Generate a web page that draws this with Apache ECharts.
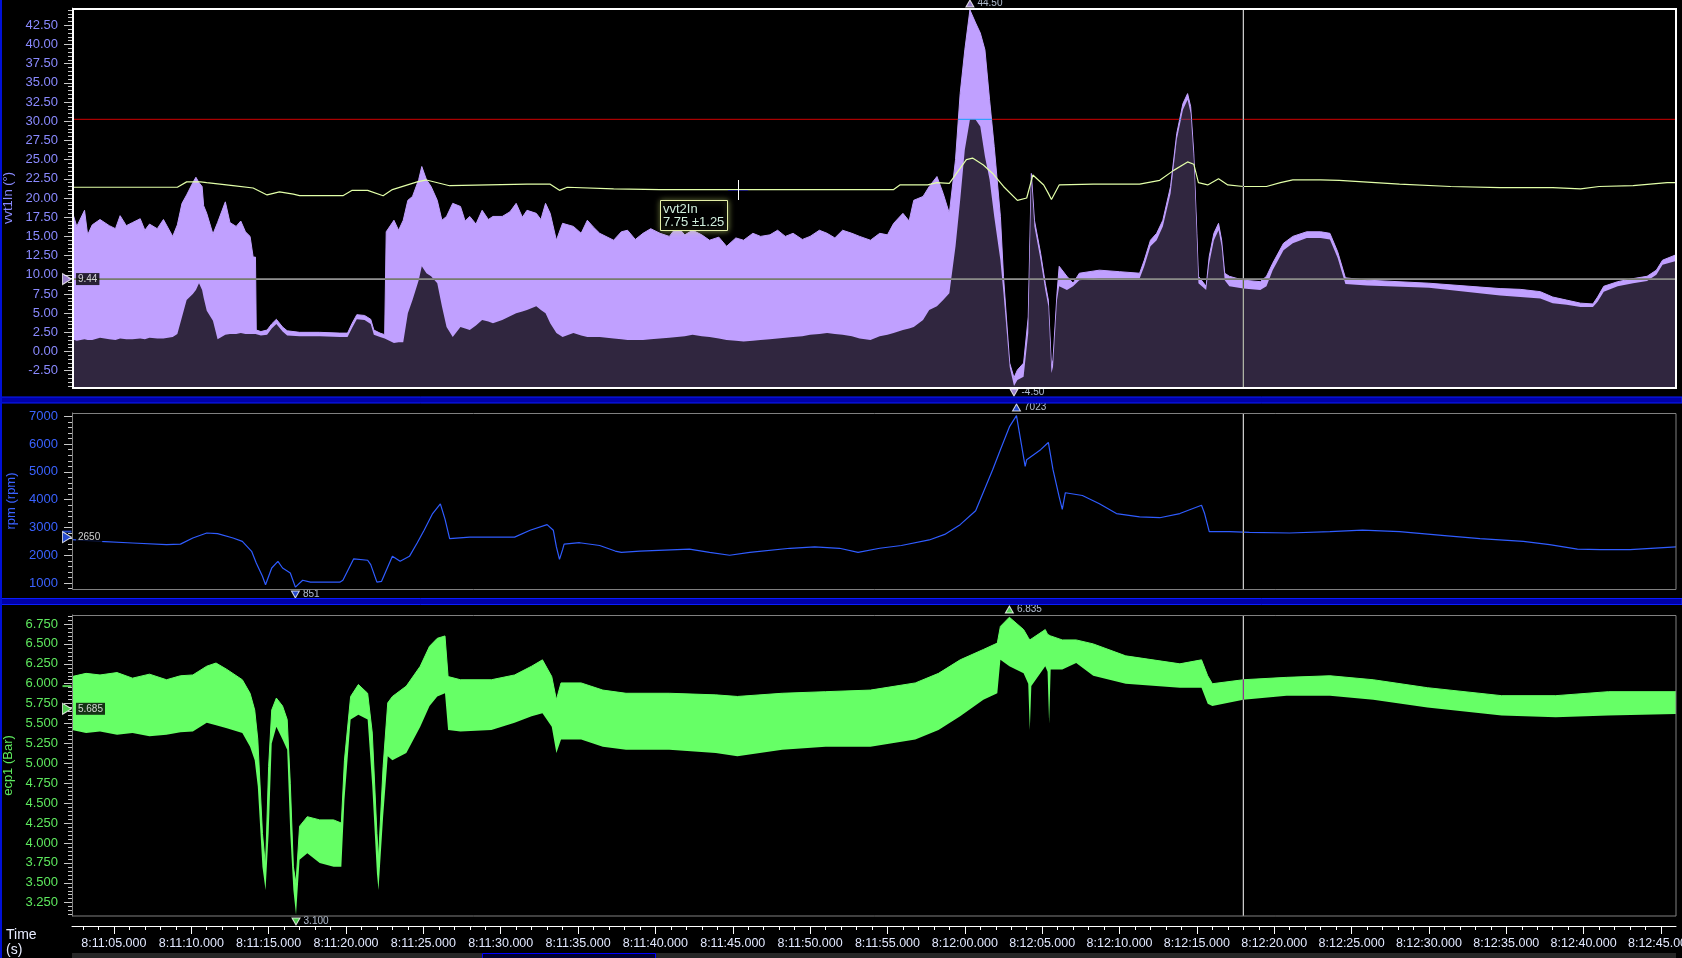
<!DOCTYPE html>
<html><head><meta charset="utf-8">
<script src="https://cdn.jsdelivr.net/npm/echarts@6/dist/echarts.min.js"></script>
<style>html,body{margin:0;padding:0;background:#000;overflow:hidden}#c{width:1682px;height:958px}</style>
</head><body><div id="c"></div>
<script>
// ---------- data (time = seconds after 8:11:00) ----------
// vvt1In: [time, upper envelope, lower envelope] of the fast-oscillating trace
const vvt1In = [
[2.29,18.3,1.6],[2.6,16.3,1.4],[3.1,18.4,1.6],[3.3,15.2,1.5],[3.6,16.5,1.5],[4.1,17.2,1.8],[4.7,16.4,1.6],[5.1,16.0,1.5],[5.4,17.7,1.7],[5.8,16.4,1.6],[6.2,16.8,1.6],[6.7,17.3,1.7],[7.0,15.8,1.6],[7.3,16.6,1.8],[7.8,16.0,1.7],[8.2,17.2,1.7],[8.8,15.0,1.9],[9.1,16.5,2.3],[9.4,19.3,4.5],[9.7,20.4,6.7],[10.1,22.0,7.5],[10.3,22.7,8.0],[10.5,22.0,8.9],[10.7,21.5,8.0],[10.8,19.0,7.0],[11.0,18.0,5.3],[11.4,15.3,4.0],[11.7,16.8,1.6],[12.2,19.5,2.2],[12.5,16.8,2.3],[12.9,16.3,2.3],[13.2,17.0,2.4],[13.5,15.6,2.3],[13.8,15.0,2.3],[14.0,12.3,2.3],[14.15,12.3,2.3],
[14.2,2.8,2.2],[14.5,2.6,2.1],[14.9,2.8,2.2],[15.2,3.6,3.0],[15.5,4.2,3.6],[15.9,3.2,2.6],[16.2,2.7,2.1],[17.0,2.5,2.0],[18.3,2.5,2.0],[19.6,2.4,1.9],[20.1,2.4,1.9],[20.4,3.7,3.1],[20.7,4.8,4.2],[21.2,4.7,4.1],[21.6,4.2,3.6],[21.8,2.8,2.2],[22.2,2.4,1.9],[22.5,2.2,1.7],
[22.6,15.6,1.5],[23.1,17.1,1.1],[23.4,15.8,1.2],[23.7,17.1,1.2],[24.0,19.7,5.0],[24.3,20.2,6.7],[24.7,22.4,9.3],[24.9,24.1,11.1],[25.2,22.4,10.2],[25.5,21.5,9.8],[25.9,19.7,8.9],[26.2,17.1,5.9],[26.5,17.6,3.2],[26.9,19.3,1.9],[27.4,18.9,3.2],[27.7,17.0,3.0],[28.0,17.6,2.8],[28.4,16.6,3.4],[28.8,18.4,4.1],[29.2,17.2,3.9],[29.5,17.6,3.7],[30.1,17.6,4.1],[30.6,18.2,4.6],[31.0,19.3,5.0],[31.4,17.5,5.2],[31.7,18.4,5.4],[32.3,18.0,5.9],[32.6,17.2,5.4],[32.9,19.3,5.0],[33.2,18.0,3.7],[33.6,14.5,2.4],[34.0,16.7,1.9],[34.7,16.3,2.4],[35.2,15.4,2.1],[35.6,17.1,1.9],[36.0,16.2,1.9],[36.4,15.4,1.9],[37.3,14.5,1.7],[37.8,15.6,1.6],[38.2,15.8,1.5],[38.7,14.6,1.5],[39.2,15.4,1.5],[39.7,16.0,1.6],[40.3,15.4,1.7],[40.9,15.0,1.8],[41.4,16.3,1.9],[41.9,15.2,2.0],[42.4,15.8,2.2],[43.0,15.2,2.0],[43.5,14.5,1.9],[44.1,14.9,1.7],[44.6,13.7,1.5],[45.2,14.8,1.4],[45.7,14.5,1.3],[46.3,15.4,1.4],[46.8,15.0,1.5],[47.4,15.2,1.6],[47.9,15.8,1.7],[48.4,15.0,1.8],[48.9,15.4,1.9],[49.5,14.6,2.0],[50.0,15.0,2.2],[50.6,15.8,2.3],[51.1,15.4,2.4],[51.6,14.8,2.3],[52.1,15.8,2.2],[52.7,15.4,2.0],[53.2,15.0,1.7],[53.9,14.5,1.5],[54.5,15.4,2.0],[55.0,15.2,2.2],[55.4,16.7,2.4],[56.0,18.0,2.8],[56.4,17.0,3.0],[56.7,19.7,3.2],[57.3,20.2,4.1],[57.7,21.5,5.4],[58.2,22.8,5.9],[58.6,20.6,6.7],[59.0,18.0,7.6],[59.4,25.0,13.7],[59.7,33.6,19.7],[60.0,39.3,26.3],[60.33,44.5,30.2],[60.7,42.8,30.2],[61.0,41.5,29.3],[61.3,39.3,25.4],[61.6,32.8,22.4],[61.9,26.7,17.6],[62.3,17.6,11.9],[62.5,9.8,7.6],[62.7,4.1,2.8],[62.9,-1.5,-2.0],[63.18,-3.4,-4.5],[63.4,-2.4,-3.7],[63.8,-1.5,-3.3],[64.1,4.5,2.4],[64.3,23.2,22.4],[64.5,17.1,16.3],[64.9,12.8,11.9],[65.2,8.9,8.0],[65.4,6.7,5.9],[65.6,-2.0,-2.8],[65.7,-1.1,-2.0],[65.96,7.6,6.7],[66.1,11.1,8.5],[66.6,9.8,8.0],[67.0,8.9,8.5],[67.4,10.2,9.3],[68.7,10.6,9.5],[70.0,10.4,9.5],[71.3,10.2,9.5],[71.6,11.9,11.1],[72.0,14.5,13.7],[72.4,15.4,14.5],[72.8,17.1,16.3],[73.3,21.5,20.6],[73.7,28.4,27.6],[74.1,32.3,31.5],[74.4,33.6,32.8],[74.6,31.9,31.0],[74.8,25.8,25.0],[75.0,15.4,14.5],[75.1,9.8,8.9],[75.6,8.5,8.0],[75.8,12.4,11.5],[76.1,15.4,14.5],[76.4,16.7,15.8],[76.6,14.5,13.7],[76.8,10.2,9.3],[77.1,9.8,8.5],[78.0,9.3,8.2],[79.1,9.1,8.0],[79.5,9.8,8.5],[79.9,11.5,10.6],[80.6,14.1,13.2],[81.2,15.0,14.1],[82.1,15.6,14.8],[83.0,15.6,14.8],[83.6,15.4,14.6],[84.1,13.0,12.2],[84.6,9.6,8.8],[86.0,9.3,8.6],[90.0,8.9,8.3],[94.6,8.2,7.3],[95.9,8.1,7.1],[97.2,7.8,6.9],[98.0,7.1,6.3],[98.9,6.7,6.1],[99.8,6.3,5.8],[100.6,6.2,5.8],[100.9,7.1,6.5],[101.3,8.5,7.8],[102.2,9.1,8.5],[103.2,9.5,8.9],[104.1,9.8,9.2],[104.7,10.6,10.0],[105.1,11.9,11.3],[105.97,12.6,11.8]
];
// vvt2In (yellow trace): [time, value]
const vvt2In = [
[2.29,21.4],[9.1,21.4],[9.7,22.1],[10.6,22.1],[11.0,22.0],[12.7,21.6],[14.0,21.3],[14.9,20.4],[15.7,20.8],[16.6,20.5],[17.0,20.3],[19.8,20.3],[20.4,21.0],[21.4,21.0],[22.4,20.3],[23.0,21.1],[24.6,22.1],[25.2,22.35],[26.7,21.6],[31.7,21.8],[33.2,21.8],[33.8,21.0],[34.3,21.4],[37.3,21.2],[40.3,21.1],[55.4,21.1],[55.8,21.7],[57.6,21.7],[58.2,22.0],[59.0,21.9],[60.1,25.0],[60.5,25.2],[61.2,24.3],[61.8,23.2],[62.5,21.5],[63.4,19.7],[64.0,20.0],[64.4,23.0],[65.1,21.7],[65.4,20.6],[65.6,19.8],[66.1,21.7],[68.3,21.8],[71.3,21.8],[72.6,22.3],[73.5,23.6],[74.4,24.7],[74.8,24.4],[75.1,22.0],[75.7,21.7],[76.4,22.5],[77.0,21.7],[78.0,21.5],[79.5,21.5],[80.4,22.0],[81.2,22.35],[83.0,22.35],[84.2,22.3],[88.1,21.8],[91.4,21.5],[94.6,21.35],[98.0,21.35],[99.8,21.2],[101.0,21.5],[103.2,21.6],[105.4,22.0],[105.97,22.0]
];
// rpm: [time, value]
const rpm = [
[2.29,2560],[4.1,2500],[6.2,2440],[8.4,2380],[9.3,2400],[10.1,2620],[11.0,2800],[11.7,2780],[12.7,2620],[13.3,2500],[13.9,2140],[14.2,1720],[14.6,1240],[14.8,940],[15.2,1540],[15.6,1780],[15.9,1540],[16.4,1360],[16.73,851],[17.2,1100],[17.7,1030],[19.6,1030],[19.8,1100],[20.5,1870],[21.4,1820],[21.6,1660],[22.0,1030],[22.3,1060],[23.0,1960],[23.5,1780],[24.1,1960],[24.6,2440],[25.05,2900],[25.6,3500],[26.1,3850],[26.4,3300],[26.7,2600],[28.0,2650],[30.9,2650],[31.9,2900],[33.0,3100],[33.4,2900],[33.6,2300],[33.8,1850],[34.0,2200],[34.1,2400],[35.1,2450],[36.4,2350],[37.4,2150],[37.8,2100],[39.0,2150],[42.2,2220],[43.5,2100],[44.8,2000],[46.1,2100],[48.7,2250],[50.3,2300],[51.9,2250],[53.1,2100],[54.5,2250],[55.9,2350],[57.7,2550],[58.7,2750],[59.7,3100],[60.7,3600],[61.8,5080],[62.3,5800],[62.9,6640],[63.34,7023],[63.9,5200],[64.0,5440],[64.9,5800],[65.4,6060],[65.7,5080],[66.1,4100],[66.3,3650],[66.5,4250],[67.6,4150],[68.7,3850],[69.8,3500],[71.3,3380],[72.6,3350],[73.9,3500],[75.3,3800],[75.5,3500],[75.8,2850],[77.1,2850],[78.4,2820],[81.0,2800],[83.6,2850],[85.7,2900],[88.1,2850],[91.2,2700],[93.3,2600],[96.1,2500],[97.8,2380],[99.6,2220],[101.1,2200],[103.0,2200],[105.97,2300]
];
// ecp1: [time, upper envelope, lower envelope]
const ecp1 = [
[2.29,6.09,5.42],[3.2,6.13,5.38],[4.1,6.11,5.40],[5.2,6.14,5.36],[6.2,6.07,5.38],[7.3,6.12,5.34],[8.4,6.05,5.36],[9.3,6.10,5.39],[10.1,6.11,5.40],[11.0,6.22,5.51],[11.6,6.26,5.48],[12.3,6.18,5.44],[13.3,6.05,5.38],[13.8,5.88,5.21],[14.1,5.67,5.04],[14.3,5.30,4.71],[14.6,4.12,3.70],[14.8,3.70,3.41],[15.0,4.96,4.12],[15.2,5.67,5.25],[15.5,5.82,5.46],[15.9,5.72,5.30],[16.2,5.55,5.17],[16.4,4.75,4.12],[16.6,3.70,3.41],[16.77,3.49,3.10],[17.0,4.21,3.79],[17.5,4.33,3.87],[18.3,4.29,3.75],[19.2,4.29,3.70],[19.7,4.25,3.70],[19.9,5.04,4.54],[20.3,5.84,5.55],[20.8,5.99,5.61],[21.4,5.88,5.55],[21.7,5.38,4.71],[22.0,4.12,3.62],[22.1,3.79,3.41],[22.4,4.96,4.33],[22.7,5.76,5.09],[23.0,5.84,5.04],[23.9,5.97,5.13],[24.8,6.22,5.46],[25.4,6.47,5.72],[25.9,6.57,5.84],[26.4,6.60,5.88],[26.6,6.09,5.42],[27.4,6.05,5.40],[29.4,6.05,5.42],[30.9,6.11,5.51],[32.0,6.22,5.59],[32.7,6.30,5.63],[33.3,6.09,5.46],[33.6,5.80,5.13],[33.9,6.01,5.30],[35.2,6.01,5.30],[36.6,5.92,5.21],[38.1,5.88,5.17],[40.9,5.88,5.17],[43.9,5.86,5.13],[45.3,5.84,5.09],[48.2,5.88,5.17],[51.0,5.90,5.21],[53.9,5.92,5.21],[56.8,6.01,5.30],[58.3,6.13,5.42],[59.7,6.30,5.59],[61.2,6.43,5.80],[62.1,6.51,5.88],[62.3,6.72,6.30],[62.88,6.835,6.22],[63.8,6.68,6.13],[64.1,6.58,6.00],[64.2,6.55,5.42],[64.3,6.55,5.97],[65.2,6.68,6.22],[65.35,6.62,6.15],[65.45,6.60,5.50],[65.55,6.60,6.18],[66.3,6.55,6.18],[67.2,6.55,6.26],[68.3,6.50,6.10],[70.4,6.35,6.00],[73.9,6.25,5.95],[75.3,6.30,5.95],[75.7,6.10,5.75],[76.0,6.00,5.72],[78.0,6.05,5.80],[80.8,6.08,5.85],[83.6,6.10,5.85],[86.4,6.05,5.80],[89.9,5.95,5.70],[94.7,5.85,5.60],[98.2,5.85,5.58],[101.6,5.90,5.60],[105.97,5.90,5.62]
];
// tick labels
const timeTicks = [5,10,15,20,25,30,35,40,45,50,55,60,65,70,75,80,85,90,95,100,105];
const vvtTicks = [-2.5,0,2.5,5,7.5,10,12.5,15,17.5,20,22.5,25,27.5,30,32.5,35,37.5,40,42.5];
const rpmTicks = [1000,2000,3000,4000,5000,6000,7000];
const ecpTicks = [3.25,3.5,3.75,4,4.25,4.5,4.75,5,5.25,5.5,5.75,6,6.25,6.5,6.75];
// reference values / markers
const vvtLimit = 30.25;
const vvtRef = 9.44, rpmRef = 2650, ecpRef = 5.685;
const cursorTime = 78.0, rpmAtCursor = 2850, ecpAtCursor = 5.97;
const vvtPeak = [60.33, 44.50], vvtDip = [63.18, -4.50];
const rpmPeak = [63.34, 7023], rpmDip = [16.73, 851];
const ecpPeak = [62.88, 6.835], ecpDip = [16.77, 3.100];
// axis ranges
const X0 = 2.29, X1 = 105.97;
const vvtRange = [-4.75, 44.75], rpmRange = [784, 7120], ecpRange = [3.083, 6.863];

// ---------- helpers ----------
const FONT = 'Liberation Sans';
function minors(a, b, step){ const r=[]; for(let v=a; v<=b+1e-9; v+=step) r.push(+v.toFixed(4)); return r; }
function fmtTime(t){ const m = 11 + Math.floor(t/60); const s = t - 60*Math.floor(t/60); return '8:' + m + ':' + String(s).padStart(2,'0') + '.000'; }

const GRIDS = [
  {left:72, top:8, width:1604, height:380},
  {left:72, top:413, width:1604, height:176},
  {left:72, top:615, width:1604, height:301}
];

function hiddenX(gi){ return {type:'value', gridIndex:gi, min:X0, max:X1, show:false, splitLine:{show:false}}; }

function yPair(gi, range, ticks, minorStep, color, name, fmt){
  return [
    {type:'value', gridIndex:gi, min:range[0], max:range[1], position:'left',
      name:name, nameLocation:'middle', nameGap:52, nameRotate:90,
      nameTextStyle:{color:color, fontSize:13, fontFamily:FONT},
      axisLine:{show:true, lineStyle:{color:'#9a9a9a', width:1}},
      axisTick:{show:true, length:8, customValues:ticks, lineStyle:{color:'#c8c8c8'}},
      axisLabel:{show:true, customValues:ticks, formatter:fmt, color:color, fontSize:13, fontFamily:FONT, margin:14},
      splitLine:{show:false}},
    {type:'value', gridIndex:gi, min:range[0], max:range[1], position:'left',
      axisLine:{show:false}, axisLabel:{show:false},
      axisTick:{show:true, length:4, customValues:minors(ticks[0]-minorStep*4, ticks[ticks.length-1]+minorStep*4, minorStep), lineStyle:{color:'#c8c8c8'}},
      splitLine:{show:false}}
  ];
}

function vline(xi, yi, t, range){
  return {type:'line', xAxisIndex:xi, yAxisIndex:yi, data:[[t, range[0]],[t, range[1]]], symbol:'none', silent:true,
    lineStyle:{color:'#ffffff', width:1}, blendMode:'difference', z:8};
}
function hline(xi, yi, v, color){
  return {type:'line', xAxisIndex:xi, yAxisIndex:yi, data:[[X0, v],[X1, v]], symbol:'none', silent:true,
    lineStyle:{color:color, width:1}, blendMode:'difference', z:7};
}
function extremeMark(xi, yi, pt, edge, text, color, up, off){
  return {type:'scatter', xAxisIndex:xi, yAxisIndex:yi, clip:false, silent:true, z:12,
    data:[[pt[0], edge]], symbol:'triangle', symbolSize:[8,7], symbolRotate: up?0:180, symbolOffset:[0, up?-off:off],
    itemStyle:{color:color, borderColor:'#ffffff', borderWidth:1},
    label:{show:true, position:'right', distance:3, formatter:text, color:'#dbe8ff', fontSize:10, fontFamily:FONT}};
}
function flag(xi, yi, v, text, color){
  return {type:'scatter', xAxisIndex:xi, yAxisIndex:yi, clip:false, silent:true, z:12,
    data:[[X0, v]], symbol:'triangle', symbolSize:[11,9], symbolRotate:-90, symbolOffset:[-5,0],
    itemStyle:{color:color, borderColor:'#ffffff', borderWidth:1},
    label:{show:true, position:'right', distance:4, formatter:text, color:'#ffffff', backgroundColor:'#000000', padding:[1,2], fontSize:10, fontFamily:FONT}};
}
function cursorDash(xi, yi, v, color){
  return {type:'scatter', xAxisIndex:xi, yAxisIndex:yi, clip:false, silent:true, z:11,
    data:[[X0, v]], symbol:'rect', symbolSize:[9,2], symbolOffset:[-5,0], itemStyle:{color:color}};
}

const cLav = '#c0a0ff', cDark = '#30263f', cYel = '#e2ffa8', cRpm = '#2f5cff', cEcp = '#66ff66';

const option = {
  backgroundColor:'#000000',
  animation:false,
  grid: GRIDS.map(g => Object.assign({show:false, containLabel:false, outerBoundsMode:'none'}, g)),
  xAxis: [
    hiddenX(0), hiddenX(1),
    {type:'value', gridIndex:2, min:X0, max:X1, position:'bottom', offset:10,
      axisLine:{show:true, lineStyle:{color:'#ffffff', width:1}},
      axisTick:{show:true, length:8, customValues:timeTicks, lineStyle:{color:'#ffffff'}},
      axisLabel:{show:true, customValues:timeTicks, formatter:fmtTime, color:'#e2e8ff', fontSize:12.5, fontFamily:FONT, margin:11, hideOverlap:false},
      splitLine:{show:false}},
    {type:'value', gridIndex:2, min:X0, max:X1, position:'bottom', offset:10,
      axisLine:{show:false}, axisLabel:{show:false},
      axisTick:{show:true, length:4, customValues:minors(3,105,1), lineStyle:{color:'#ffffff'}},
      splitLine:{show:false}}
  ],
  yAxis: [].concat(
    yPair(0, vvtRange, vvtTicks, 0.5, '#8a8aff', 'vvt1In (°)', v => v.toFixed(2)),
    yPair(1, rpmRange, rpmTicks, 200, '#3a62ff', 'rpm (rpm)', v => String(v)),
    yPair(2, ecpRange, ecpTicks, 0.05, '#5ee85e', 'ecp1 (Bar)', v => v.toFixed(3))
  ),
  series: [
    // panel 1
    {name:'vvt1In', type:'line', xAxisIndex:0, yAxisIndex:0, data:vvt1In.map(r=>[r[0], r[1]]), symbol:'none',
      lineStyle:{color:cLav, width:1}, areaStyle:{color:cLav, opacity:1, origin:'start'}, z:2},
    {name:'vvt1In low', type:'line', xAxisIndex:0, yAxisIndex:0, data:vvt1In.map(r=>[r[0], r[2]]), symbol:'none',
      lineStyle:{width:0}, areaStyle:{color:cDark, opacity:1, origin:'start'}, z:3},
    {name:'vvt2In', type:'line', xAxisIndex:0, yAxisIndex:0, data:vvt2In, symbol:'none',
      lineStyle:{color:cYel, width:1.2}, z:6},
    hline(0, 0, vvtLimit, '#d00000'),
    hline(0, 0, vvtRef, '#ffffff'),
    vline(0, 0, cursorTime, vvtRange),
    extremeMark(0, 0, vvtPeak, vvtRange[1], vvtPeak[1].toFixed(2), cLav, true, 4.5),
    extremeMark(0, 0, vvtDip, vvtRange[0], vvtDip[1].toFixed(2), cLav, false, 4.5),
    flag(0, 0, vvtRef, vvtRef.toFixed(2), cLav),
    // panel 2
    {name:'rpm', type:'line', xAxisIndex:1, yAxisIndex:2, data:rpm, symbol:'none',
      lineStyle:{color:cRpm, width:1.2}, z:4},
    vline(1, 2, cursorTime, rpmRange),
    extremeMark(1, 2, rpmPeak, rpmRange[1], String(rpmPeak[1]), cRpm, true, 5.5),
    extremeMark(1, 2, rpmDip, rpmRange[0], String(rpmDip[1]), cRpm, false, 5.5),
    cursorDash(1, 2, rpmAtCursor, cRpm),
    flag(1, 2, rpmRef, String(rpmRef), cRpm),
    // panel 3
    {name:'ecp1', type:'line', xAxisIndex:2, yAxisIndex:4, data:ecp1.map(r=>[r[0], r[1]]), symbol:'none',
      lineStyle:{color:cEcp, width:1}, areaStyle:{color:cEcp, opacity:1, origin:'start'}, z:2},
    {name:'ecp1 low', type:'line', xAxisIndex:2, yAxisIndex:4, data:ecp1.map(r=>[r[0], r[2]]), symbol:'none',
      lineStyle:{width:0}, areaStyle:{color:'#000000', opacity:1, origin:'start'}, z:3},
    vline(2, 4, cursorTime, ecpRange),
    extremeMark(2, 4, ecpPeak, ecpRange[1], ecpPeak[1].toFixed(3), cEcp, true, 5.5),
    extremeMark(2, 4, ecpDip, ecpRange[0], ecpDip[1].toFixed(3), cEcp, false, 5.5),
    cursorDash(2, 4, ecpAtCursor, cEcp),
    flag(2, 4, ecpRef, ecpRef.toFixed(3), cEcp)
  ],
  graphic: { elements: [
    // panel frames
    {type:'rect', z:50, silent:true, shape:{x:73, y:9, width:1603, height:379}, style:{fill:null, stroke:'#ffffff', lineWidth:2}},
    {type:'rect', z:50, silent:true, shape:{x:72.5, y:413.5, width:1603.5, height:176}, style:{fill:null, stroke:'#808080', lineWidth:1}},
    {type:'rect', z:50, silent:true, shape:{x:72.5, y:615.5, width:1603.5, height:300.5}, style:{fill:null, stroke:'#808080', lineWidth:1}},
    // separators and outer edge
    {type:'rect', z:50, silent:true, shape:{x:0, y:397, width:1682, height:6}, style:{fill:'#0000a8', stroke:'#0a1cff', lineWidth:1}},
    {type:'rect', z:50, silent:true, shape:{x:0, y:598.5, width:1682, height:6}, style:{fill:'#0000a8', stroke:'#0a1cff', lineWidth:1}},
    {type:'rect', z:50, silent:true, shape:{x:0, y:0, width:2, height:958}, style:{fill:'#0010d8'}},
    // scrollbar
    {type:'rect', z:50, silent:true, shape:{x:72, y:953, width:1604, height:5}, style:{fill:'#262626'}},
    {type:'rect', z:51, silent:true, shape:{x:482.5, y:953.5, width:173, height:6}, style:{fill:'#000030', stroke:'#0000ff', lineWidth:1}},
    // axis title
    {type:'text', z:50, silent:true, x:6, y:928, style:{text:'Time', fill:'#e8ecff', fontSize:14, fontFamily:FONT}},
    {type:'text', z:50, silent:true, x:6, y:943, style:{text:'(s)', fill:'#e8ecff', fontSize:14, fontFamily:FONT}},
    // hover tooltip
    {type:'rect', z:60, silent:true, shape:{x:660.5, y:200.5, width:67, height:30}, style:{fill:'#000000', stroke:'#e4f0a8', lineWidth:1, shadowBlur:6, shadowColor:'rgba(210,230,120,0.55)'}},
    {type:'text', z:61, silent:true, x:663, y:203, style:{text:'vvt2In', fill:'#cfeedc', fontSize:13, fontFamily:FONT}},
    {type:'text', z:61, silent:true, x:663, y:216, style:{text:'7.75 ±1.25', fill:'#cfeedc', fontSize:13, fontFamily:FONT}},
    // mouse crosshair
    {type:'line', z:60, silent:true, shape:{x1:738.5, y1:180, x2:738.5, y2:200}, style:{stroke:'#ffffff', lineWidth:1}},
    {type:'line', z:59, silent:true, shape:{x1:728, y1:190.5, x2:748, y2:190.5}, style:{stroke:'#20207a', lineWidth:1}}
  ]}
};

const chart = echarts.init(document.getElementById('c'), null, {renderer:'canvas'});
chart.setOption(option);
</script>
</body></html>
